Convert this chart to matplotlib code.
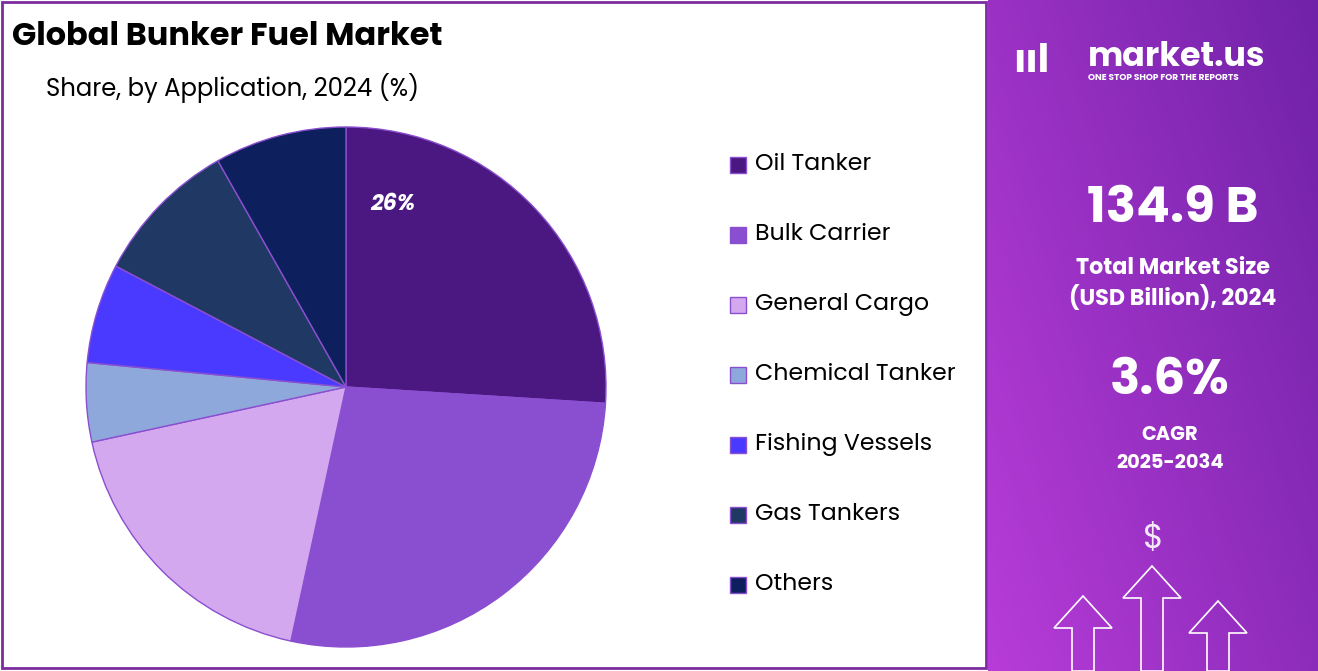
import matplotlib
matplotlib.use("Agg")
import matplotlib.pyplot as plt
import numpy as np
from matplotlib.patches import Rectangle, FancyArrow

categories = ["Oil Tanker", "Bulk Carrier", "General Cargo", "Chemical Tanker",
              "Fishing Vessels", "Gas Tankers", "Others"]
shares = [26.0, 27.4, 18.2, 4.9, 6.2, 9.1, 8.2]
colors = ["#4B1780", "#8A4FD0", "#D4A8EE", "#8FA8DC", "#4A3AFF", "#1F3864", "#0E1F5E"]

plt.rcParams['font.family'] = ['Poppins', 'Open Sans', 'DejaVu Sans']
W, H = 1318, 671
fig = plt.figure(figsize=(W/100, H/100), dpi=100)

bg = fig.add_axes([0, 0, 1, 1]); bg.set_xlim(0, W); bg.set_ylim(H, 0); bg.axis('off')
bg.add_patch(Rectangle((2, 2), 984, 666, fill=False, ec="#7B2C9E", lw=2))

rp = fig.add_axes([988/W, 0, (W-988)/W, 1])
yy, xx = np.mgrid[0:1:200j, 0:1:100j]
t = np.clip(0.6*xx + 0.4*(1-yy), 0, 1)
c1 = np.array([0xB8, 0x3C, 0xD8]) / 255
c2 = np.array([0x70, 0x22, 0xA8]) / 255
img = c1[None, None, :]*(1-t[..., None]) + c2[None, None, :]*t[..., None]
rp.imshow(img, aspect='auto', extent=[0, 330, 671, 0])
rp.set_xlim(0, 330); rp.set_ylim(671, 0); rp.axis('off')
rp.text(100, 58, "market.us", color="white", fontsize=24, fontweight='bold', va='center')
rp.text(100, 77, "ONE STOP SHOP FOR THE REPORTS", color="white", fontsize=6.5, fontweight='bold', va='center')
rp.text(25, 62, "ııl", color="white", fontsize=28, fontweight='bold', va='center')
rp.text(185, 210, "134.9 B", color="white", fontsize=36, fontweight='bold', ha='center', va='center')
rp.text(185, 268, "Total Market Size", color="white", fontsize=16, fontweight='bold', ha='center', va='center')
rp.text(185, 298, "(USD Billion), 2024", color="white", fontsize=16, fontweight='bold', ha='center', va='center')
rp.text(182, 382, "3.6%", color="white", fontsize=36, fontweight='bold', ha='center', va='center')
rp.text(182, 436, "CAGR", color="white", fontsize=14, fontweight='bold', ha='center', va='center')
rp.text(182, 464, "2025-2034", color="white", fontsize=14, fontweight='bold', ha='center', va='center')
rp.text(165, 540, "$", color="white", fontsize=24, ha='center', va='center', alpha=0.9)
for x0, y0, h in [(95, 671, 75), (164, 671, 105), (230, 671, 70)]:
    rp.add_patch(FancyArrow(x0, y0, 0, -h, width=22, head_width=58, head_length=32,
                            length_includes_head=True, fill=False, ec="white", lw=1.2))

fig.text(12/W, 1-37/H, "Global Bunker Fuel Market", fontsize=23, fontweight='bold', va='center')
fig.text(46/W, 1-88/H, "Share, by Application, 2024 (%)", fontsize=17.5, va='center')

ax = fig.add_axes([86/W, 24/H, 520/W, 520/H])
wedges, _ = ax.pie(shares, colors=colors, startangle=90, counterclock=False,
                   wedgeprops=dict(edgecolor="#8A4FD0", linewidth=1))
ax.set_xlim(-1, 1); ax.set_ylim(-1, 1)
ax.set_aspect('equal')
ax.text(0.18, 0.70, f"{shares[0]:.0f}%", color="white", fontsize=16, fontweight='bold',
        style='italic', ha='center', va='center')

for i, (c, col) in enumerate(zip(categories, colors)):
    y = 165 + i*70
    bg.add_patch(Rectangle((730, y-8), 16, 16, fc=col, ec="#8A4FD0", lw=1))
    bg.text(755, y, c, fontsize=17, va='center')

fig.savefig("out.png", dpi=100)
